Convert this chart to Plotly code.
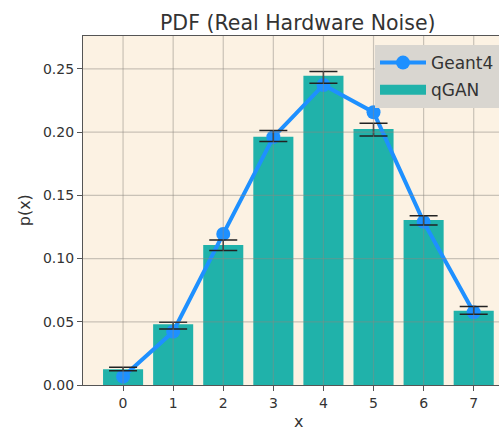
import plotly.graph_objects as go

# ---- data ----
x_vals = [0, 1, 2, 3, 4, 5, 6, 7]
qgan = [0.0124, 0.048, 0.1108, 0.1964, 0.2445, 0.2025, 0.1305, 0.0588]
qgan_err_high = [0.0140, 0.0496, 0.1147, 0.2012, 0.2479, 0.2070, 0.1339, 0.0620]
qgan_err_low = [0.0113, 0.0443, 0.1063, 0.1925, 0.2387, 0.1970, 0.1266, 0.0560]
geant4 = [0.0066, 0.0422, 0.1195, 0.1960, 0.2373, 0.2157, 0.1290, 0.0575]
x_ticks = [0, 1, 2, 3, 4, 5, 6, 7]
y_ticks = [0.0, 0.05, 0.10, 0.15, 0.20, 0.25]
y_tick_text = ["0.00", "0.05", "0.10", "0.15", "0.20", "0.25"]

FONT = "DejaVu Sans"
TXT = "#333333"
BG = "#fcf2e3"
TEAL = "#20b2aa"
BLUE = "#1e90ff"

err_plus = [h - v for h, v in zip(qgan_err_high, qgan)]
err_minus = [v - l for v, l in zip(qgan, qgan_err_low)]

fig = go.Figure()
fig.add_trace(go.Bar(
    x=x_vals, y=qgan, width=0.8, name="qGAN", showlegend=False,
    marker=dict(color=TEAL, line=dict(width=0)),
))
fig.add_trace(go.Scatter(
    x=x_vals, y=geant4, name="Geant4", mode="lines+markers", legendrank=1, legendgroup="a",
    line=dict(color=BLUE, width=4),
    marker=dict(color=BLUE, size=14),
))
# legend proxy for the bars (wide rectangle patch)
fig.add_trace(go.Scatter(
    x=[None], y=[None], name="qGAN", mode="lines", legendrank=2, legendgroup="b",
    line=dict(color=TEAL, width=13),
))
fig.add_trace(go.Scatter(
    x=x_vals, y=qgan, mode="markers", showlegend=False, hoverinfo="skip",
    marker=dict(size=1, color="rgba(0,0,0,0)"),
    error_y=dict(type="data", symmetric=False, array=err_plus, arrayminus=err_minus,
                 color="#222222", thickness=1.5, width=14),
))

shapes = []
for xv in x_ticks:
    shapes.append(dict(type="line", xref="x", yref="paper", x0=xv, x1=xv, y0=0, y1=1,
                       line=dict(color="rgba(140,135,128,0.45)", width=1.2), layer="above"))
for yv in y_ticks[1:]:
    shapes.append(dict(type="line", xref="paper", yref="y", x0=0, x1=1, y0=yv, y1=yv,
                       line=dict(color="rgba(140,135,128,0.45)", width=1.2), layer="above"))

fig.update_layout(
    width=499, height=430,
    margin=dict(l=83, r=0, t=36, b=45, pad=0),
    paper_bgcolor="white", plot_bgcolor=BG,
    font=dict(family=FONT, color=TXT, size=14),
    showlegend=True,
    legend=dict(x=0.702, y=0.974, xanchor="left", yanchor="top",
                bgcolor="#d9d6d0", borderwidth=0,
                font=dict(family=FONT, size=17, color=TXT),
                traceorder="grouped", tracegroupgap=2, itemwidth=46),
    xaxis=dict(range=[-0.8, 7.505], tickmode="array", tickvals=x_ticks,
               showgrid=False, zeroline=False, showline=True, mirror=True,
               linecolor="#555555", linewidth=1.3, ticks="outside", ticklen=5,
               tickcolor="#555555", tickfont=dict(size=14, color=TXT)),
    yaxis=dict(range=[0, 0.276], tickmode="array", tickvals=y_ticks, ticktext=y_tick_text,
               showgrid=False, zeroline=False, showline=True, mirror=False,
               linecolor="#555555", linewidth=1.3, ticks="outside", ticklen=5,
               tickcolor="#555555", tickfont=dict(size=14, color=TXT)),
    shapes=shapes,
    annotations=[
        dict(text="PDF (Real Hardware Noise)", xref="paper", yref="paper",
             x=0.517, y=1.037, xanchor="center", yanchor="middle", showarrow=False,
             font=dict(size=20.5, color=TXT, family=FONT)),
        dict(text="x", xref="paper", yref="paper", x=0.517, y=-0.105,
             xanchor="center", yanchor="middle", showarrow=False,
             font=dict(size=16, color=TXT, family=FONT)),
        dict(text="p(x)", xref="paper", yref="paper", x=-0.14, y=0.5, textangle=-90,
             xanchor="center", yanchor="middle", showarrow=False,
             font=dict(size=16, color=TXT, family=FONT)),
    ],
)

fig.write_html("out.html")
